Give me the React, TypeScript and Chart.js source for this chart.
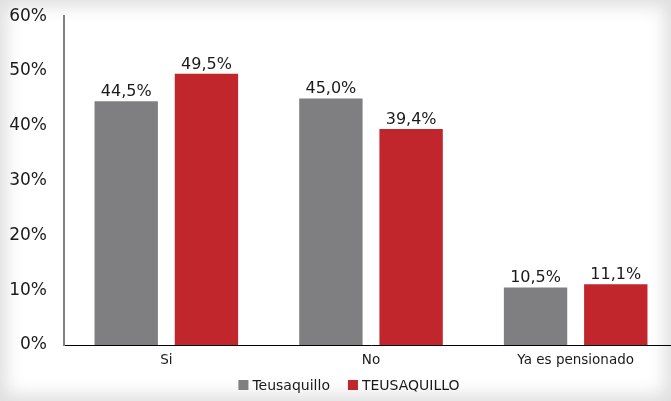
import React, { useEffect, useRef } from "react";
import { Chart, registerables } from "chart.js";

Chart.register(...registerables);

const categories = ["Si", "No", "Ya es pensionado"];
const seriesNames = ["Teusaquillo", "TEUSAQUILLO"];
const seriesColors = ["#7f7f82", "#c0262c"];
const teusaquilloValues = [44.5, 45.0, 10.5];
const teusaquilloUpperValues = [49.5, 39.4, 11.1];
const yTicks = [0, 10, 20, 30, 40, 50, 60];

const FONT = "'DejaVu Sans', Verdana, sans-serif";
const SHIFT = 11;

const fmt = (v: number) => v.toFixed(1).replace(".", ",") + "%";

const valueLabels = {
  id: "valueLabels",
  afterDatasetsDraw(chart: any) {
    const ctx = chart.ctx;
    ctx.save();
    ctx.font = `16px ${FONT}`;
    ctx.fillStyle = "#1a1a1a";
    ctx.textAlign = "center";
    ctx.textBaseline = "alphabetic";
    chart.data.datasets.forEach((ds: any, i: number) => {
      const meta = chart.getDatasetMeta(i);
      meta.data.forEach((bar: any, j: number) => {
        ctx.fillText(fmt(ds.data[j]), bar.x, bar.y - 5);
      });
    });
    ctx.restore();
  },
};

const customLegend = {
  id: "customLegend",
  afterDraw(chart: any) {
    const ctx = chart.ctx;
    ctx.save();
    ctx.font = `14px ${FONT}`;
    ctx.textBaseline = "middle";
    ctx.textAlign = "left";
    const box = 10;
    const textGap = 4;
    const itemGap = 18;
    const items = chart.data.datasets.map((ds: any) => ({
      label: ds.label,
      color: ds.backgroundColor,
      w: ctx.measureText(ds.label).width,
    }));
    const total =
      items.reduce((a: number, it: any) => a + box + textGap + it.w, 0) +
      itemGap * (items.length - 1);
    const cy = 385 + SHIFT;
    let x = 349 - total / 2;
    items.forEach((it: any) => {
      ctx.fillStyle = it.color;
      ctx.fillRect(x, cy - box / 2, box, box);
      x += box + textGap;
      ctx.fillStyle = "#1a1a1a";
      ctx.fillText(it.label, x, cy + 1);
      x += it.w + itemGap;
    });
    ctx.restore();
  },
};

export default function App() {
  const ref = useRef<HTMLCanvasElement>(null);
  useEffect(() => {
    if (!ref.current) return;
    const chart = new Chart(ref.current, {
      type: "bar",
      data: {
        labels: categories,
        datasets: [
          {
            label: seriesNames[0],
            data: teusaquilloValues,
            backgroundColor: seriesColors[0],
            categoryPercentage: 0.784,
            barPercentage: 0.79,
          },
          {
            label: seriesNames[1],
            data: teusaquilloUpperValues,
            backgroundColor: seriesColors[1],
            categoryPercentage: 0.784,
            barPercentage: 0.79,
          },
        ],
      },
      options: {
        animation: false,
        responsive: false,
        maintainAspectRatio: false,
        layout: { padding: { top: 4, left: 0, right: 0, bottom: 31 } },
        plugins: {
          tooltip: { enabled: false },
          legend: { display: false },
        },
        scales: {
          x: {
            grid: { display: false, drawTicks: false },
            border: { display: true, color: "#000", width: 1 },
            ticks: {
              color: "#1a1a1a",
              font: { family: FONT, size: 13.5 },
              padding: 7,
            },
            afterFit: (s: any) => {
              s.height = 25;
            },
          },
          y: {
            min: 0,
            max: 60,
            grid: { display: false, drawTicks: false },
            border: { display: true, color: "#808080", width: 2 },
            afterBuildTicks: (s: any) => {
              s.ticks = yTicks.map((v) => ({ value: v }));
            },
            ticks: {
              color: "#1a1a1a",
              font: { family: FONT, size: 17 },
              padding: 17,
              callback: (v: any) => v + "%",
            },
            afterFit: (s: any) => {
              s.width = 64;
            },
          },
        },
      },
      plugins: [valueLabels, customLegend],
    });
    return () => chart.destroy();
  }, []);

  return (
    <div
      style={{
        position: "fixed",
        left: 0,
        top: 0,
        width: 671,
        height: 401,
        overflow: "hidden",
        background: "#ffffff",
        boxShadow: "inset 0 0 18px 6px #dedede",
      }}
    >
      <canvas
        ref={ref}
        width={678}
        height={401 + SHIFT}
        style={{ position: "absolute", left: 0, top: -SHIFT, width: 678, height: 401 + SHIFT }}
      />
    </div>
  );
}
